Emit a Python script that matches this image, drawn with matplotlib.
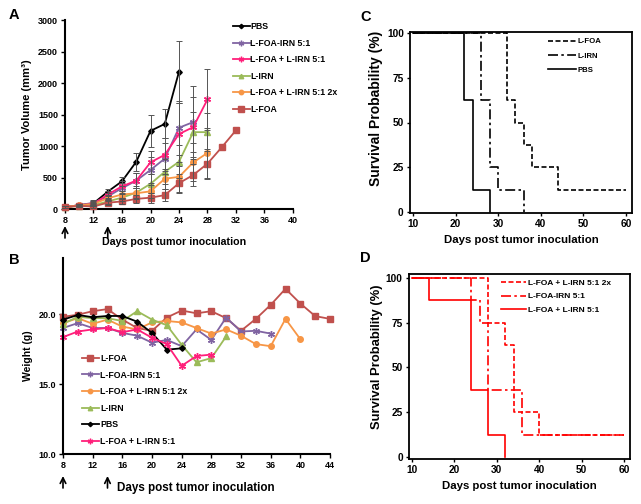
import matplotlib
matplotlib.use("Agg")
import matplotlib.pyplot as plt
import numpy as np

plt.rcParams['font.family'] = ['Liberation Sans', 'DejaVu Sans']
plt.rcParams['font.weight'] = 'bold'
plt.rcParams['axes.labelweight'] = 'bold'

# ---------------- Panel A: tumor volume ----------------
a_series = ["PBS", "L-FOA-IRN 5:1", "L-FOA + L-IRN 5:1", "L-IRN", "L-FOA + L-IRN 5:1 2x", "L-FOA"]
a_days_pbs = [8, 10, 12, 14, 16, 18, 20, 22, 24]
a_pbs = [30, 60, 90, 275, 440, 750, 1240, 1350, 2180]
a_pbs_err = [15, 20, 40, 50, 70, 140, 250, 230, 490]
a_days_purple = [8, 10, 12, 14, 16, 18, 20, 22, 24, 26]
a_purple = [30, 60, 100, 200, 330, 450, 620, 800, 1290, 1380]
a_purple_err = [15, 20, 40, 60, 80, 120, 200, 250, 430, 580]
a_days_pink = [8, 10, 12, 14, 16, 18, 20, 22, 24, 26, 28]
a_pink = [30, 60, 80, 230, 360, 450, 740, 860, 1190, 1300, 1740]
a_pink_err = [15, 20, 30, 60, 80, 120, 180, 260, 500, 480, 490]
a_days_green = [8, 10, 12, 14, 16, 18, 20, 22, 24, 26, 28]
a_green = [30, 50, 60, 120, 180, 260, 400, 590, 750, 1220, 1220]
a_green_err = [10, 15, 20, 40, 60, 100, 150, 200, 260, 320, 300]
a_days_orange = [8, 10, 12, 14, 16, 18, 20, 22, 24, 26, 28]
a_orange = [30, 60, 80, 170, 230, 250, 280, 480, 510, 740, 890]
a_orange_err = [10, 15, 20, 40, 60, 80, 100, 160, 240, 300, 400]
a_days_brown = [8, 10, 12, 14, 16, 18, 20, 22, 24, 26, 28, 30, 32]
a_brown = [30, 50, 40, 100, 120, 160, 180, 220, 410, 540, 720, 980, 1250]
a_brown_err = [10, 15, 20, 40, 40, 60, 80, 90, 150, 180, 240]

# ---------------- Panel B: weight ----------------
b_series = ["L-FOA", "L-FOA-IRN 5:1", "L-FOA + L-IRN 5:1 2x", "L-IRN", "PBS", "L-FOA + L-IRN 5:1"]
b_days_brown = [8, 10, 12, 14, 16, 18, 20, 22, 24, 26, 28, 30, 32, 34, 36, 38, 40, 42, 44]
b_brown = [19.8, 19.95, 20.2, 20.35, 19.6, 19.0, 18.8, 19.75, 20.25, 20.05, 20.2, 19.7, 18.8, 19.65, 20.65, 21.8, 20.75, 19.85, 19.65]
b_days_purple = [8, 10, 12, 14, 16, 18, 20, 22, 24, 26, 28, 30, 32, 34, 36]
b_purple = [19.0, 19.35, 19.0, 19.0, 18.65, 18.45, 17.95, 18.15, 17.7, 18.9, 18.15, 19.75, 18.75, 18.8, 18.6]
b_days_orange = [8, 10, 12, 14, 16, 18, 20, 22, 24, 26, 28, 30, 32, 34, 36, 38, 40]
b_orange = [19.35, 19.7, 19.3, 19.6, 19.1, 18.9, 19.4, 19.5, 19.4, 19.0, 18.6, 18.9, 18.45, 17.85, 17.7, 19.65, 18.2]
b_days_green = [8, 10, 12, 14, 16, 18, 20, 22, 24, 26, 28, 30]
b_green = [19.3, 19.8, 19.7, 19.7, 19.5, 20.2, 19.6, 19.2, 17.8, 16.55, 16.85, 18.4]
b_days_pbs = [8, 10, 12, 14, 16, 18, 20, 22, 24]
b_pbs = [19.6, 19.93, 19.77, 19.86, 19.86, 19.45, 18.65, 17.45, 17.55]
b_days_pink = [8, 10, 12, 14, 16, 18, 20, 22, 24, 26, 28]
b_pink = [18.35, 18.75, 18.9, 19.0, 18.7, 18.9, 18.3, 17.85, 16.3, 17.0, 17.1]

# ---------------- Panel C: survival ----------------
c_labels = ["L-FOA", "L-IRN", "PBS"]
c_foa_t = [10, 32, 34, 36, 38, 44, 60]
c_foa_s = [100, 62.5, 50, 37.5, 25, 12.5, 12.5]
c_irn_t = [10, 26, 28, 30, 36]
c_irn_s = [100, 62.5, 25, 12.5, 0]
c_pbs_t = [10, 22, 24, 28]
c_pbs_s = [100, 62.5, 12.5, 0]

# ---------------- Panel D: survival ----------------
d_labels = ["L-FOA + L-IRN 5:1 2x", "L-FOA-IRN 5:1", "L-FOA + L-IRN 5:1"]
d_2x_t = [10, 28, 32, 34, 40, 60]
d_2x_s = [100, 75, 62.5, 25, 12.5, 12.5]
d_conj_t = [10, 24, 26, 28, 36, 60]
d_conj_s = [100, 87.5, 75, 37.5, 12.5, 12.5]
d_mix_t = [10, 14, 24, 28, 32]
d_mix_s = [100, 87.5, 37.5, 12.5, 0]

C_BLACK = '#000000'
C_PURPLE = '#8064A2'
C_PINK = '#FF1F7A'
C_GREEN = '#9BBB59'
C_ORANGE = '#F79646'
C_BROWN = '#C0504D'
STAR = (6, 2, 0)

W, H = 641, 504
fig = plt.figure(figsize=(W / 100, H / 100), dpi=100)

def fr(l, t, r, b):
    return [l / W, 1 - b / H, (r - l) / W, (b - t) / H]

tick_fs = 6.5

# ---------- A ----------
axA = fig.add_axes(fr(65, 20, 293, 209))
styleA = [
    (a_days_pbs, a_pbs, a_pbs_err, C_BLACK, 'D', 2.8),
    (a_days_purple, a_purple, a_purple_err, C_PURPLE, STAR, 5.0),
    (a_days_pink, a_pink, a_pink_err, C_PINK, STAR, 5.0),
    (a_days_green, a_green, a_green_err, C_GREEN, '^', 4.0),
    (a_days_orange, a_orange, a_orange_err, C_ORANGE, 'o', 4.0),
    (a_days_brown, a_brown, a_brown_err, C_BROWN, 's', 4.8),
]
for (d, v, e, c, m, ms), lab in zip(styleA, a_series):
    n = len(e)
    axA.errorbar(d[:n], v[:n], yerr=e, fmt='none', ecolor='#555555', elinewidth=0.7,
                 capsize=2, capthick=0.7, zorder=4, clip_on=False)
    axA.plot(d, v, color=c, marker=m, ms=ms, mew=1.0, lw=1.3, label=lab, zorder=3, clip_on=False)
axA.set_xlim(8, 40)
axA.set_ylim(0, 3000)
axA.set_xticks(np.arange(8, 41, 4))
axA.set_yticks(np.arange(0, 3001, 500))
axA.spines['top'].set_visible(False)
axA.spines['right'].set_visible(False)
for s in ['left', 'bottom']:
    axA.spines[s].set_linewidth(1.5)
axA.tick_params(labelsize=tick_fs, width=1, length=3, pad=2)
axA.set_ylabel('Tumor Volume (mm³)', fontsize=8.0, labelpad=4)
axA.legend(loc='upper left', bbox_to_anchor=(233 / W, 1 - 22 / H), bbox_transform=fig.transFigure,
           frameon=False, fontsize=6.3, handlelength=1.9, handletextpad=0.1, labelspacing=0.87,
           borderpad=0, borderaxespad=0, markerscale=0.8)

# ---------- B ----------
axB = fig.add_axes(fr(63, 258, 330, 454))
styleB = [
    (b_days_brown, b_brown, C_BROWN, 's', 4.8),
    (b_days_purple, b_purple, C_PURPLE, STAR, 5.0),
    (b_days_orange, b_orange, C_ORANGE, 'o', 4.0),
    (b_days_green, b_green, C_GREEN, '^', 4.0),
    (b_days_pbs, b_pbs, C_BLACK, 'D', 2.8),
    (b_days_pink, b_pink, C_PINK, STAR, 5.0),
]
for (d, v, c, m, ms), lab in zip(styleB, b_series):
    axB.plot(d, v, color=c, marker=m, ms=ms, mew=1.0, lw=1.3, label=lab, clip_on=False)
axB.set_xlim(8, 44)
axB.set_ylim(10, 24)
axB.set_xticks(np.arange(8, 45, 4))
axB.set_yticks([10, 15, 20])
axB.set_yticklabels(['10.0', '15.0', '20.0'])
axB.spines['top'].set_visible(False)
axB.spines['right'].set_visible(False)
for s in ['left', 'bottom']:
    axB.spines[s].set_linewidth(1.5)
axB.tick_params(labelsize=tick_fs, width=1, length=3, pad=2)
axB.set_ylabel('Weight (g)', fontsize=7.5, labelpad=4)
axB.legend(loc='upper left', bbox_to_anchor=(82 / W, 1 - 354 / H), bbox_transform=fig.transFigure,
           frameon=False, fontsize=6.3, handlelength=1.9, handletextpad=0.15, labelspacing=0.86,
           borderpad=0, borderaxespad=0, markerscale=0.8)

# arrows and x labels for A and B
for ax, ytop, ybot, xl_x, xl_y, fs in [(axA, 226, 238, 174, 242, 7.7), (axB, 476, 488, 196, 488, 8.4)]:
    for day in [8, 14]:
        ax.annotate('', xy=(day, 1 - ytop / H), xycoords=('data', 'figure fraction'),
                    xytext=(day, 1 - ybot / H), textcoords=('data', 'figure fraction'),
                    arrowprops=dict(arrowstyle='->', lw=1.2, color='black', shrinkA=0, shrinkB=0))
    fig.text(xl_x / W, 1 - xl_y / H, 'Days post tumor inoculation', fontsize=fs,
             ha='center', va='center', fontweight='bold')

# ---------- C ----------
axC = fig.add_axes(fr(410, 32, 632, 213))
axC.step(c_foa_t, c_foa_s, where='post', color='black', lw=1.2, ls=(0, (3, 1.5)), label=c_labels[0])
axC.step(c_irn_t, c_irn_s, where='post', color='black', lw=1.2, ls=(0, (6, 2, 1.5, 2)), label=c_labels[1])
axC.step(c_pbs_t, c_pbs_s, where='post', color='black', lw=1.2, ls='-', label=c_labels[2])
axC.set_xlim(9.3, 61.4)
axC.set_ylim(-0.6, 100.6)
axC.set_xticks(np.arange(10, 61, 10))
axC.set_yticks([0, 25, 50, 75, 100])
for s in axC.spines.values():
    s.set_linewidth(1.3)
axC.tick_params(labelsize=7.3, width=1, length=2.5, pad=2)
axC.set_ylabel('Survival Probability (%)', fontsize=10.0)
axC.yaxis.set_label_coords(-0.122, 0.58)
axC.set_xlabel('Days post tumor inoculation', fontsize=8.2, labelpad=4)
axC.legend(loc='upper left', bbox_to_anchor=(548 / W, 1 - 38 / H), bbox_transform=fig.transFigure,
           frameon=False, fontsize=5.6, handlelength=3.6, handletextpad=0.25, labelspacing=0.85,
           borderpad=0, borderaxespad=0)

# ---------- D ----------
axD = fig.add_axes(fr(409, 274, 630, 459))
axD.step(d_2x_t, d_2x_s, where='post', color='red', lw=1.2, ls=(0, (3, 1.5)), label=d_labels[0])
axD.step(d_conj_t, d_conj_s, where='post', color='red', lw=1.2, ls=(0, (6, 2, 1.5, 2)), label=d_labels[1])
axD.step(d_mix_t, d_mix_s, where='post', color='red', lw=1.2, ls='-', label=d_labels[2])
axD.set_xlim(9.36, 61.4)
axD.set_ylim(-1.1, 102.2)
axD.set_xticks(np.arange(10, 61, 10))
axD.set_yticks([0, 25, 50, 75, 100])
for s in axD.spines.values():
    s.set_linewidth(1.3)
axD.tick_params(labelsize=7.3, width=1, length=2.5, pad=2)
axD.set_ylabel('Survival Probability (%)', fontsize=9.4)
axD.yaxis.set_label_coords(-0.118, 0.551)
axD.set_xlabel('Days post tumor inoculation', fontsize=8.2, labelpad=4)
axD.legend(loc='upper left', bbox_to_anchor=(501 / W, 1 - 279 / H), bbox_transform=fig.transFigure,
           frameon=False, fontsize=6.0, handlelength=3.0, handletextpad=0.25, labelspacing=0.7,
           borderpad=0, borderaxespad=0)

# panel letters
for lt, x, y in [('A', 9, 15), ('B', 9, 260), ('C', 360, 17), ('D', 360, 258)]:
    fig.text(x / W, 1 - y / H, lt, fontsize=10.5, fontweight='bold', ha='left', va='center')

fig.savefig('out.png', dpi=100)
